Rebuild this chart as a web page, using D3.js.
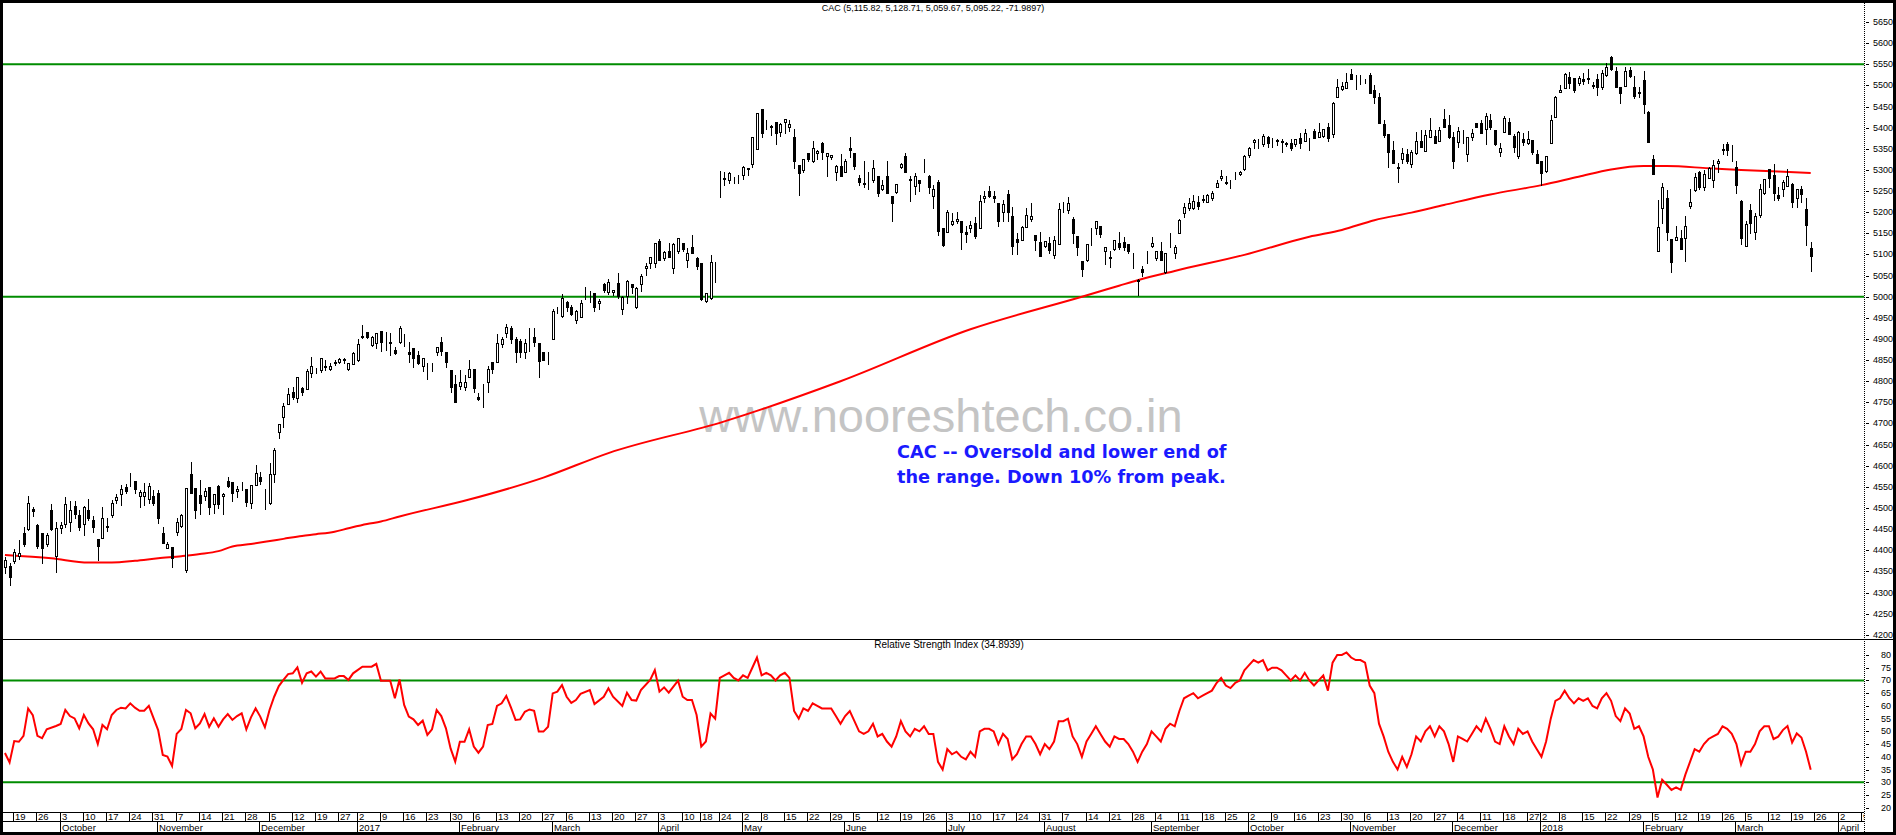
<!DOCTYPE html>
<html><head><meta charset="utf-8">
<script src="https://cdn.jsdelivr.net/npm/d3@7"></script>
<style>
html,body{margin:0;padding:0;background:#fff;overflow:hidden}
svg{display:block}
text{font-family:"Liberation Sans Narrow","Liberation Sans",Arial,sans-serif}
</style></head><body>
<svg id="chart" width="1896" height="835"></svg>
<script>
// ---------------- DATA ----------------
const titleText = "CAC (5,115.82, 5,128.71, 5,059.67, 5,095.22, -71.9897)";
const rsiTitle = "Relative Strength Index (34.8939)";
const noteLines = ["CAC -- Oversold and lower end of", "the range. Down 10% from peak."];
const watermark = "www.nooreshtech.co.in";
const firstDay = "2016-09-15", lastDay = "2018-03-23", axisEnd = "2018-04-10";
const holidays = ["2016-12-26","2017-04-14","2017-04-17","2017-05-01","2017-12-25","2017-12-26","2018-01-01"];
const monthNames = ["2017","February","March","April","May","June","July","August","September","October","November","December"];
const priceTicks = d3.range(4200, 5651, 50);
const rsiTicks = d3.range(20, 81, 5);
const levels = [5000, 5550];
const rsiLevels = [30, 70];
// daily candles [open, high, low, close]
const ohlc = [
[4361,4385,4347,4377],[4363,4369,4318,4336],[4375,4402,4369,4397],[4386,4424,4380,4393],[4442,4454,4409,4414],
[4450,4529,4449,4513],[4498,4503,4481,4492],[4460,4462,4405,4410],[4440,4442,4369,4405],[4416,4440,4409,4435],
[4495,4509,4449,4450],[4387,4466,4348,4452],[4452,4466,4440,4459],[4462,4525,4456,4509],[4466,4517,4446,4495],
[4505,4517,4476,4485],[4483,4495,4448,4454],[4462,4505,4435,4502],[4495,4522,4472,4476],[4472,4480,4444,4456],
[4426,4426,4376,4409],[4428,4502,4428,4476],[4458,4476,4446,4454],[4483,4519,4478,4513],[4519,4533,4511,4525],
[4532,4554,4507,4545],[4550,4558,4536,4541],[4558,4582,4552,4556],[4564,4564,4535,4545],[4528,4543,4502,4539],
[4529,4560,4507,4539],[4521,4560,4513,4553],[4528,4543,4507,4513],[4535,4543,4464,4476],[4440,4456,4418,4418],
[4406,4420,4405,4416],[4407,4407,4360,4381],[4444,4476,4436,4466],[4458,4487,4456,4483],[4353,4547,4349,4547],
[4580,4610,4535,4535],[4547,4547,4477,4495],[4531,4566,4487,4513],[4529,4547,4519,4541],[4549,4550,4485,4503],
[4509,4532,4489,4532],[4552,4554,4499,4509],[4528,4535,4487,4533],[4564,4574,4550,4553],[4562,4562,4517,4535],
[4541,4552,4527,4546],[4556,4561,4543,4557],[4546,4546,4505,4515],[4511,4554,4499,4554],[4554,4602,4554,4582],
[4573,4586,4558,4565],[4534,4546,4497,4533],[4511,4607,4509,4580],[4580,4643,4562,4637],[4681,4698,4665,4698],
[4715,4748,4692,4741],[4745,4783,4745,4769],[4775,4786,4758,4762],[4760,4811,4752,4810],[4784,4786,4767,4774],
[4782,4830,4782,4824],[4819,4858,4811,4837],[4827,4831,4820,4826],[4827,4854,4821,4854],[4837,4850,4827,4834],
[4828,4844,4827,4837],[4843,4850,4838,4845],[4846,4856,4842,4853],[4852,4854,4842,4851],[4828,4844,4827,4842],
[4841,4870,4841,4866],[4850,4900,4849,4887],[4904,4933,4902,4906],[4916,4916,4902,4905],[4885,4906,4884,4904],
[4891,4913,4879,4913],[4919,4919,4872,4892],[4895,4916,4874,4895],[4892,4913,4862,4890],[4875,4882,4864,4867],
[4892,4931,4890,4925],[4887,4912,4884,4888],[4870,4894,4846,4864],[4878,4878,4833,4856],[4862,4872,4841,4844],
[4837,4854,4825,4854],[4823,4844,4805,4822],[4836,4842,4825,4837],[4868,4882,4862,4880],[4893,4904,4862,4872],
[4870,4870,4834,4845],[4826,4826,4775,4787],[4793,4815,4752,4752],[4789,4826,4782,4797],[4787,4815,4779,4797],
[4811,4850,4809,4828],[4830,4830,4775,4783],[4763,4773,4756,4758],[4771,4793,4740,4772],[4797,4835,4775,4830],
[4845,4845,4820,4829],[4846,4911,4846,4891],[4888,4905,4882,4900],[4913,4935,4905,4929],[4927,4931,4890,4901],
[4900,4905,4846,4870],[4896,4901,4858,4868],[4870,4901,4854,4891],[4901,4925,4872,4899],[4904,4925,4884,4894],
[4890,4890,4811,4849],[4868,4870,4850,4850],[4862,4868,4841,4862],[4901,4970,4901,4965],[4968,4975,4961,4968],
[4955,5006,4953,4998],[4988,4990,4965,4975],[4976,4980,4957,4958],[4945,4968,4938,4966],[4953,4992,4953,4984],
[4998,5024,4995,4998],[5001,5014,4988,5002],[5008,5008,4965,4976],[4984,4994,4972,4990],[5030,5032,5012,5016],
[5010,5041,5006,5034],[5010,5017,5004,5016],[5032,5057,4996,5002],[4972,5002,4958,4999],[5002,5040,4984,5036],
[5030,5030,5008,5024],[4976,5024,4974,5020],[5030,5053,5014,5050],[5067,5079,5051,5073],[5079,5095,5067,5093],
[5080,5128,5071,5126],[5132,5137,5087,5088],[5091,5107,5087,5105],[5108,5126,5095,5095],[5067,5128,5055,5125],
[5107,5138,5103,5138],[5128,5128,5107,5112],[5088,5116,5071,5104],[5117,5146,5103,5104],[5092,5095,5066,5073],
[5079,5080,4992,4995],[4991,5008,4987,5008],[4996,5099,4995,5081],[5066,5083,5034,5065],[5270,5298,5235,5268],
[5278,5294,5264,5282],[5275,5294,5268,5292],[5276,5284,5268,5276],[5272,5288,5270,5272],[5288,5309,5279,5308],
[5304,5304,5288,5302],[5313,5377,5308,5377],[5349,5434,5349,5434],[5443,5443,5379,5387],[5404,5418,5398,5404],
[5404,5406,5383,5402],[5413,5413,5361,5387],[5389,5410,5380,5408],[5414,5420,5388,5420],[5401,5418,5393,5409],
[5377,5398,5304,5320],[5312,5312,5241,5292],[5300,5327,5296,5327],[5339,5339,5321,5325],[5320,5369,5318,5351],
[5339,5347,5327,5345],[5363,5367,5327,5342],[5333,5341,5286,5339],[5330,5335,5325,5335],[5294,5312,5276,5309],
[5309,5338,5286,5286],[5294,5326,5294,5321],[5351,5377,5331,5346],[5341,5341,5302,5310],[5282,5288,5264,5272],
[5268,5321,5259,5266],[5268,5296,5256,5270],[5276,5323,5272,5304],[5286,5286,5239,5245],[5256,5276,5252,5264],
[5286,5320,5245,5246],[5238,5238,5180,5221],[5247,5266,5245,5266],[5308,5317,5305,5313],[5333,5341,5296,5296],
[5278,5286,5227,5276],[5262,5292,5243,5286],[5276,5276,5251,5268],[5298,5325,5294,5297],[5286,5288,5245,5260],
[5239,5264,5209,5256],[5272,5276,5146,5156],[5162,5162,5121,5122],[5154,5205,5154,5200],[5173,5197,5170,5179],
[5179,5200,5175,5184],[5179,5179,5114,5154],[5152,5167,5130,5148],[5163,5178,5154,5170],[5174,5189,5140,5144],
[5162,5241,5162,5226],[5233,5249,5225,5239],[5251,5262,5235,5239],[5239,5251,5225,5233],[5221,5221,5167,5178],
[5200,5229,5180,5219],[5242,5252,5180,5201],[5191,5212,5100,5121],[5136,5150,5100,5130],[5133,5167,5133,5164],
[5166,5211,5166,5193],[5183,5221,5178,5191],[5146,5146,5110,5134],[5130,5152,5097,5097],[5121,5132,5118,5132],
[5126,5142,5103,5110],[5099,5144,5091,5134],[5125,5221,5125,5207],[5213,5223,5201,5212],[5204,5235,5197,5221],
[5184,5188,5128,5150],[5144,5144,5099,5118],[5084,5084,5050,5065],[5087,5124,5085,5124],[5146,5162,5122,5145],
[5162,5180,5148,5180],[5167,5167,5142,5148],[5107,5118,5077,5118],[5093,5109,5071,5092],[5114,5134,5110,5133],
[5126,5152,5114,5118],[5130,5142,5110,5117],[5124,5124,5103,5107],[5080,5103,5069,5079],[5040,5043,5004,5038],
[5065,5073,5049,5059],[5087,5108,5079,5086],[5121,5142,5118,5126],[5092,5108,5087,5108],[5109,5130,5087,5088],
[5058,5103,5055,5103],[5121,5150,5117,5120],[5103,5122,5091,5117],[5150,5184,5150,5181],[5197,5221,5189,5213],
[5209,5233,5205,5221],[5209,5241,5207,5227],[5223,5239,5207,5215],[5231,5241,5223,5230],[5225,5242,5223,5241],
[5233,5251,5230,5245],[5260,5275,5260,5270],[5280,5300,5276,5286],[5271,5286,5267,5270],[5270,5276,5258,5269],
[5284,5294,5278,5283],[5290,5297,5288,5296],[5301,5335,5300,5334],[5335,5355,5331,5353],[5367,5372,5351,5371],
[5369,5372,5351,5368],[5361,5384,5357,5381],[5379,5381,5355,5363],[5369,5375,5355,5368],[5369,5374,5359,5370],
[5369,5372,5343,5365],[5363,5367,5357,5361],[5363,5372,5347,5351],[5361,5373,5357,5373],[5375,5387,5351,5364],
[5369,5396,5369,5387],[5373,5376,5347,5372],[5392,5396,5375,5376],[5379,5412,5377,5389],[5381,5398,5379,5398],
[5401,5412,5368,5376],[5385,5461,5379,5458],[5473,5514,5473,5497],[5491,5509,5489,5499],[5495,5530,5495,5507],
[5527,5538,5516,5516],[5515,5525,5491,5514],[5518,5525,5503,5517],[5511,5514,5505,5510],[5525,5529,5481,5483],
[5489,5501,5458,5473],[5472,5481,5410,5410],[5409,5418,5379,5383],[5385,5385,5306,5343],[5347,5369,5317,5317],
[5306,5316,5272,5305],[5327,5351,5316,5339],[5338,5349,5317,5322],[5314,5347,5306,5343],[5339,5390,5338,5369],
[5368,5394,5355,5355],[5345,5394,5345,5383],[5377,5422,5377,5394],[5380,5394,5363,5363],[5369,5401,5369,5394],
[5420,5443,5401,5401],[5406,5430,5375,5377],[5379,5390,5304,5321],[5365,5401,5355,5392],[5383,5394,5364,5382],
[5337,5379,5322,5377],[5377,5398,5371,5387],[5412,5412,5401,5402],[5412,5418,5387,5388],[5398,5435,5361,5428],
[5418,5432,5396,5402],[5394,5394,5359,5361],[5343,5363,5333,5353],[5389,5428,5389,5424],[5413,5422,5385,5385],
[5380,5385,5343,5355],[5334,5392,5329,5389],[5373,5387,5359,5367],[5363,5391,5361,5372],[5371,5371,5338,5343],
[5337,5347,5316,5316],[5321,5321,5264,5292],[5298,5334,5296,5334],[5363,5430,5363,5418],[5426,5475,5426,5473],
[5485,5501,5484,5490],[5495,5529,5495,5526],[5519,5531,5493,5506],[5517,5517,5484,5489],[5505,5523,5501,5518],
[5516,5530,5503,5511],[5517,5538,5505,5516],[5498,5509,5493,5500],[5514,5528,5477,5497],[5497,5536,5491,5530],
[5525,5552,5523,5543],[5568,5569,5536,5538],[5535,5543,5497,5497],[5497,5497,5459,5483],[5499,5543,5499,5534],
[5536,5543,5521,5522],[5497,5522,5469,5476],[5484,5497,5473,5483],[5513,5535,5435,5456],[5438,5439,5367,5367],
[5325,5335,5290,5290],[5107,5229,5107,5164],[5211,5268,5174,5259],[5233,5252,5134,5154],[5136,5136,5058,5083],
[5133,5167,5133,5142],[5138,5158,5112,5112],[5140,5191,5085,5168],[5215,5256,5209,5225],[5252,5293,5249,5284],
[5296,5298,5256,5259],[5260,5300,5252,5290],[5282,5308,5280,5304],[5275,5323,5259,5312],[5316,5327,5296,5321],
[5349,5361,5338,5348],[5361,5367,5335,5346],[5326,5359,5320,5325],[5306,5320,5246,5264],[5226,5229,5125,5140],
[5120,5178,5120,5172],[5205,5219,5150,5174],[5154,5199,5137,5191],[5193,5267,5189,5256],[5245,5278,5243,5278],
[5301,5301,5260,5280],[5288,5313,5230,5246],[5241,5260,5229,5234],[5256,5276,5239,5271],[5262,5301,5262,5286],
[5267,5268,5213,5225],[5234,5256,5213,5256],[5255,5262,5225,5242],[5207,5233,5122,5170],[5115.82,5128.71,5059.67,5095.22]
];
// 200-day moving average, read at [candle index, value]
const maPoints = [[0,4389],[10,4381],[18,4371],[23,4371],[28,4375],[33,4381],[38,4386],[42,4391],[46,4398],[49,4409],
[53,4415],[56,4420],[60,4427],[64,4434],[67,4438],[71,4444],[74,4452],[78,4462],[81,4468],[85,4480],
[100,4520],[116,4572],[130,4630],[155,4705],[180,4800],[208,4923],[232,5000],[240,5026],[244,5039],[252,5061],
[267,5099],[281,5142],[288,5158],[295,5181],[303,5199],[310,5217],[320,5242],[331,5264],[339,5284],[346,5301],
[353,5309],[358,5309],[367,5304],[374,5300],[382,5296],[389,5293]];
// RSI(14), read at [candle index, value]
const rsiPoints = [[0,41.5],[1,37.8],[2,46.2],[3,45.9],[4,48.2],[5,59],[6,56.4],[7,48.2],[8,47.3],[9,50.8],
[11,52.1],[12,52.9],[13,58.4],[14,56],[15,55.1],[16,51.2],[17,56.4],[18,53.1],[19,50.8],[20,45],
[21,52.5],[22,50.8],[23,56.4],[24,58.4],[25,59.3],[26,59],[27,61],[28,59.3],[29,58.1],[30,58.1],
[31,60],[33,50.5],[34,40.7],[35,40.1],[36,36.4],[37,49],[38,50.9],[39,58.4],[40,57.1],[41,51.2],
[42,53.1],[43,56.8],[44,51.8],[45,55.1],[46,51.8],[47,54.7],[48,56.8],[49,54.5],[50,56],[51,57.1],
[52,50.8],[53,55.5],[54,59],[55,55.8],[56,51.6],[57,58.4],[58,63.6],[59,67.8],[60,70.2],[61,72.5],
[62,72.8],[63,75.1],[64,69.1],[65,72.8],[66,73.5],[67,71.5],[68,73.5],[69,70.8],[71,70.8],[72,71.7],
[73,71.7],[74,70.2],[75,72.8],[77,75.4],[79,75.4],[80,76.5],[81,69.9],[83,69.9],[84,63],[85,70.4],
[86,60.4],[87,55.8],[88,54.7],[89,52.5],[90,54.2],[91,48.6],[92,50.8],[93,58.4],[94,56],[95,51.2],
[96,43.3],[97,38.1],[98,45.9],[99,45.9],[100,50.8],[101,44],[102,41.6],[103,44],[104,52.5],[105,52.9],
[106,60],[107,61],[108,63.9],[109,59.4],[110,54.5],[111,54.7],[112,57.7],[113,58.6],[114,58.1],[115,49.9],
[116,49.9],[117,51.8],[118,64.9],[119,65.6],[120,68.2],[121,63.6],[122,61.2],[123,62.3],[124,64.7],[126,66.2],
[127,60.7],[129,63.6],[130,66.9],[131,63.6],[133,60],[134,65.2],[135,62.3],[136,62.1],[137,66.2],[139,70.2],
[140,74.1],[141,65.6],[142,67.3],[143,65.2],[145,69.9],[146,63.6],[147,62.3],[148,62.3],[149,56.4],[150,44],
[151,46],[152,57],[153,55],[154,71],[155,72],[156,73],[157,71],[158,70],[159,72],[160,71],
[161,75],[162,79],[163,72],[164,73],[165,72],[166,70],[167,72],[168,73],[169,71],[170,58],
[171,55],[172,59],[173,58],[174,61],[175,60],[176,59],[177,59],[178,59],[179,56],[180,53],
[181,56],[182,58],[183,54],[184,50],[185,49],[186,50],[187,53],[188,48],[189,49],[190,46],
[191,44],[192,48],[193,54],[194,50],[195,48],[196,51],[197,50],[198,52],[199,49],[200,49],
[201,38],[202,35],[203,43],[204,41],[205,42],[206,40],[207,39],[208,42],[209,40],[210,50],
[211,51],[212,51],[213,50],[214,45],[215,49],[216,47],[217,39],[218,41],[219,45],[220,48],
[221,48],[222,45],[223,41],[224,45],[225,43],[226,46],[227,54],[228,54],[229,55],[230,48],
[231,45],[232,40],[233,46],[234,49],[235,52],[236,49],[237,46],[238,44],[239,48],[240,47],
[241,47],[242,45],[243,42],[244,38],[245,42],[246,45],[247,50],[248,48],[249,46],[250,51],
[251,53],[252,52],[253,58],[254,63],[255,64],[256,65],[257,63],[258,64],[259,65],[260,66],
[261,69],[262,71],[263,68],[264,67],[265,69],[266,70],[267,74],[268,76],[269,78],[270,77],
[271,78],[272,74],[273,75],[274,75],[275,74],[276,72],[277,70],[278,72],[279,70],[280,73],
[281,70],[282,68],[283,70],[284,72],[285,66],[286,77],[287,80],[288,80],[289,81],[290,79],
[291,78],[292,78],[293,77],[294,68],[295,65],[296,53],[297,48],[298,42],[299,38],[300,35],
[301,40],[302,36],[303,41],[304,48],[305,46],[306,50],[307,52],[308,48],[309,52],[310,50],
[311,45],[312,38],[313,48],[314,47],[315,46],[316,49],[317,52],[318,50],[319,55],[320,51],
[321,46],[322,45],[323,52],[324,48],[325,45],[326,51],[327,49],[328,50],[329,46],[330,43],
[331,40],[332,46],[333,55],[334,62],[335,63],[336,66],[337,63],[338,61],[339,63],[340,62],
[341,63],[342,60],[343,59],[344,63],[345,65],[346,62],[347,56],[348,54],[349,59],[350,57],
[351,51],[352,52],[353,48],[354,40],[355,35],[356,24],[357,31],[358,29],[359,27],[360,28],
[361,27],[362,33],[363,38],[364,43],[365,42],[366,45],[367,47],[368,48],[369,49],[370,52],
[371,51],[372,49],[373,45],[374,37],[375,42],[376,42],[377,45],[378,50],[379,52],[380,52],
[381,47],[382,47.9],[383,50.5],[384,52.1],[385,45.6],[386,49.2],[387,47.6],[388,42],[389,34.89]];

// ---------------- CALENDAR ----------------
const DAY = 86400000;
const parse = s => new Date(s + "T00:00:00Z");
const iso = d => d.toISOString().slice(0,10);
const days = [];
for (let t = parse(firstDay).getTime(); t <= parse(axisEnd).getTime(); t += DAY) {
  const d = new Date(t), wd = d.getUTCDay();
  if (wd === 0 || wd === 6) continue;
  if (t <= parse(lastDay).getTime() && holidays.includes(iso(d))) continue;
  days.push(d);
}

// ---------------- LAYOUT ----------------
const svg = d3.select("#chart");
const W = 1896, H = 835;
const plotL = 3, plotR = 1864;
const x = d3.scaleLinear().domain([0, ohlc.length - 1]).range([4.94, 1810.7]);
const y = d3.scaleLinear().domain([4200, 5650]).range([634.8, 22]);
const yr = d3.scaleLinear().domain([20, 80]).range([807.7, 655]);
const px = i => Math.round(x(i));

svg.append("rect").attr("width", W).attr("height", H).attr("fill", "#fff");
const defs = svg.append("defs");
defs.append("clipPath").attr("id","cm").append("rect")
  .attr("x", plotL).attr("y", 3).attr("width", plotR - plotL).attr("height", 636);
defs.append("clipPath").attr("id","cr").append("rect")
  .attr("x", plotL).attr("y", 640).attr("width", plotR - plotL).attr("height", 172);
defs.append("clipPath").attr("id","cx").append("rect")
  .attr("x", plotL).attr("y", 812).attr("width", plotR - plotL).attr("height", 20);

// title
svg.append("text").attr("x", 933).attr("y", 11).attr("text-anchor","middle")
  .attr("font-size", 9).attr("fill","#000").text(titleText);

// watermark
svg.append("text").attr("x", 941).attr("y", 432).attr("text-anchor","middle")
  .attr("font-size", 47).attr("fill","#c4c4c4")
  .style("font-family","'Liberation Sans',Arial,sans-serif").text(watermark);

const gm = svg.append("g").attr("clip-path","url(#cm)");
gm.selectAll("line.lvl").data(levels).join("line")
  .attr("x1", plotL).attr("x2", plotR)
  .attr("y1", d => y(d)).attr("y2", d => y(d))
  .attr("stroke", "#008c00").attr("stroke-width", 2);

gm.append("path").datum(maPoints)
  .attr("d", d3.line().x(d => x(d[0])).y(d => y(d[1])).curve(d3.curveMonotoneX))
  .attr("fill","none").attr("stroke","#ff0000").attr("stroke-width", 2);

const gc = gm.append("g").attr("shape-rendering","crispEdges");
gc.selectAll("line").data(ohlc).join("line")
  .attr("x1", (d,i) => px(i) + 0.5).attr("x2", (d,i) => px(i) + 0.5)
  .attr("y1", d => Math.round(y(d[1]))).attr("y2", d => Math.round(y(d[2])) + 1)
  .attr("stroke", "#000").attr("stroke-width", 1);
gc.selectAll("rect").data(ohlc).join("rect")
  .attr("x", (d,i) => px(i) - 0.5).attr("width", 2)
  .attr("y", d => Math.round(y(Math.max(d[0], d[3]))) + 0.5)
  .attr("height", d => Math.max(0, Math.round(y(Math.min(d[0], d[3]))) - Math.round(y(Math.max(d[0], d[3])))))
  .attr("fill", d => d[3] >= d[0] ? "#fff" : "#000")
  .attr("stroke", "#000").attr("stroke-width", 1);

// annotation (below the watermark)
const note = svg.append("text").attr("fill", "#1a1aff")
  .attr("font-size", 17.7).attr("font-weight", "bold")
  .style("font-family", "'DejaVu Sans',Verdana,sans-serif");
noteLines.forEach((t, k) => note.append("tspan").attr("x", 897).attr("y", 458 + k * 25).text(t));

// RSI panel
const gr = svg.append("g").attr("clip-path","url(#cr)");
gr.selectAll("line.lvl").data(rsiLevels).join("line")
  .attr("x1", plotL).attr("x2", plotR)
  .attr("y1", d => yr(d)).attr("y2", d => yr(d))
  .attr("stroke", "#008c00").attr("stroke-width", 2);
gr.append("path").datum(rsiPoints)
  .attr("d", d3.line().x(d => x(d[0])).y(d => yr(d[1])))
  .attr("fill","none").attr("stroke","#ff0000").attr("stroke-width", 2);
svg.append("text").attr("x", 949).attr("y", 648).attr("text-anchor","middle")
  .attr("font-size", 10).attr("fill","#000").text(rsiTitle);

// panel separators
svg.append("line").attr("x1", plotL).attr("x2", 1893).attr("y1", 639.5).attr("y2", 639.5).attr("stroke","#000");
svg.append("line").attr("x1", plotL).attr("x2", plotR).attr("y1", 812.5).attr("y2", 812.5).attr("stroke","#000");
svg.append("line").attr("x1", plotL).attr("x2", plotR).attr("y1", 821.5).attr("y2", 821.5).attr("stroke","#000");

// right axis
svg.append("line").attr("x1", plotR + 0.5).attr("x2", plotR + 0.5).attr("y1", 3).attr("y2", 832)
  .attr("stroke","#000").attr("stroke-dasharray","1,1");
const ga = svg.append("g").attr("font-size", 9).attr("fill","#000");
ga.selectAll("line.pt").data(priceTicks).join("line")
  .attr("x1", plotR + 2).attr("x2", plotR + 5).attr("y1", d => Math.round(y(d)) + 0.5).attr("y2", d => Math.round(y(d)) + 0.5)
  .attr("stroke","#000");
ga.selectAll("text.pt").data(priceTicks).join("text")
  .attr("x", 1873).attr("y", d => y(d) + 3).text(d => d);
ga.selectAll("line.rt").data(rsiTicks).join("line")
  .attr("x1", plotR + 2).attr("x2", plotR + 5).attr("y1", d => Math.round(yr(d)) + 0.5).attr("y2", d => Math.round(yr(d)) + 0.5)
  .attr("stroke","#000");
ga.selectAll("text.rt").data(rsiTicks).join("text")
  .attr("x", 1881).attr("y", d => yr(d) + 3).text(d => d);

// date axis
const weekStarts = [], monthStarts = [];
days.forEach((d, i) => {
  if (i === 0) return;
  const p = days[i - 1];
  if (d.getUTCDay() <= p.getUTCDay() || (d - p) > 3 * DAY) weekStarts.push(i);
  if (d.getUTCMonth() !== p.getUTCMonth()) monthStarts.push(i);
});
const gx = svg.append("g").attr("clip-path","url(#cx)").attr("font-size", 9.5).attr("fill","#000");
gx.selectAll("line.wk").data(weekStarts).join("line")
  .attr("x1", i => px(i) - 0.5).attr("x2", i => px(i) - 0.5).attr("y1", 812).attr("y2", 821)
  .attr("stroke","#000");
gx.selectAll("text.wk").data(weekStarts).join("text")
  .attr("x", i => px(i) + 1).attr("y", 820).text(i => days[i].getUTCDate());
gx.selectAll("line.mo").data(monthStarts).join("line")
  .attr("x1", i => px(i) - 0.5).attr("x2", i => px(i) - 0.5).attr("y1", 821).attr("y2", 832)
  .attr("stroke","#000");
gx.selectAll("text.mo").data(monthStarts).join("text")
  .attr("x", i => px(i) + 1).attr("y", 830.5)
  .text(i => { const m = days[i].getUTCMonth(); return m === 0 ? String(days[i].getUTCFullYear()) : monthNames[m]; });

// black frame
svg.append("rect").attr("x",0).attr("y",0).attr("width",W).attr("height",3).attr("fill","#000");
svg.append("rect").attr("x",0).attr("y",0).attr("width",3).attr("height",H).attr("fill","#000");
svg.append("rect").attr("x",1893).attr("y",0).attr("width",3).attr("height",H).attr("fill","#000");
svg.append("rect").attr("x",0).attr("y",832).attr("width",W).attr("height",3).attr("fill","#000");
</script>
</body></html>
